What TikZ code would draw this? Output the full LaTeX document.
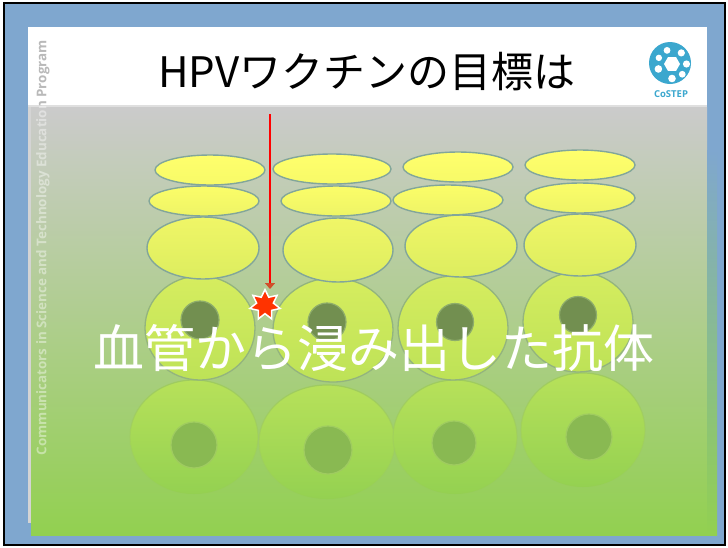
\documentclass[tikz,border=0pt]{standalone}
\usepackage{fontspec}
\newfontfamily\jp{Noto Sans CJK JP}
\newfontfamily\osans{Open Sans}
\usetikzlibrary{arrows.meta,shapes.geometric,fadings}
\definecolor{framefill}{HTML}{7FA7CF}
\definecolor{slidegray}{HTML}{D4D4D4}
\definecolor{topgray}{HTML}{CBCBCB}
\definecolor{leafgreen}{HTML}{92D050}
\definecolor{rimteal}{HTML}{82A69A}
\definecolor{rimgreen}{HTML}{93B47E}
\definecolor{rimpale}{HTML}{9FCB60}
\definecolor{nucdark}{HTML}{728F50}
\definecolor{nucrim}{HTML}{8EAD6A}
\definecolor{nucpale}{HTML}{89B952}
\definecolor{logoblue}{HTML}{3BA7CE}
\definecolor{arrowbrown}{HTML}{D0502A}
\definecolor{burst}{HTML}{FF3300}
\definecolor{rowAtop}{HTML}{FFFF6C}
\definecolor{rowAbot}{HTML}{F7FA68}
\definecolor{rowBtop}{HTML}{FBFD69}
\definecolor{rowBbot}{HTML}{EEF466}
\definecolor{rowCtop}{HTML}{F0F667}
\definecolor{rowCbot}{HTML}{DCED5F}
\definecolor{rowDtop}{HTML}{D6ED5F}
\definecolor{rowDbot}{HTML}{BDE257}
\definecolor{rowEtop}{HTML}{B7E15A}
\definecolor{rowEbot}{HTML}{94D151}
\tikzset{
  flatcell/.style={draw=rimteal, line width=1.4pt},
  roundcell/.style={draw=rimgreen, line width=1.3pt, top color=rowDtop, bottom color=rowDbot},
  nucleus/.style={fill=nucdark, draw=nucrim, line width=1.2pt},
  deepcell/.style={top color=rowEtop, bottom color=rowEbot},
  deeprim/.style={draw=rimpale, line width=1.2pt, path fading=south},
  deepnuc/.style={fill=nucpale, draw=rimpale, line width=1.2pt},
  caption/.style={text=white, font=\jp\fontsize{51}{51}\selectfont, inner sep=0pt},
  banner/.style={rotate=90, anchor=east, inner sep=0pt, font=\osans\bfseries\fontsize{13.4}{13.4}\selectfont},
}
\begin{document}
\begin{tikzpicture}[x=1pt, y=-1pt]
\useasboundingbox (0,0) rectangle (728,547);
% page and frame
\fill[white] (0,0) rectangle (728,547);
\draw[fill=framefill, line width=1.5pt] (4,3) rectangle (725,545);
% slide body
\fill[slidegray] (28,27) rectangle (707,523);
\fill[white] (28,27) rectangle (707,105);
\fill[gray!25] (28,105) rectangle (707,107);
\shade[top color=topgray, bottom color=leafgreen] (31,107) rectangle (707,535);
\shade[top color=framefill, bottom color=leafgreen] (707,150) rectangle (717,535);
\fill[topgray] (31,107) rectangle (707,110);

% vertical programme banner
\begin{scope}
  \clip (28,27) rectangle (707,105);
  \node[banner, text=gray!55] (bannerA) at (43,40) {Communicators in Science and Technology Education Program};
\end{scope}
\begin{scope}
  \clip (28,105) rectangle (717,535);
  \node[banner, text=white, opacity=0.42] (bannerB) at (43,40) {Communicators in Science and Technology Education Program};
\end{scope}

% title and logo
\node[font=\jp\fontsize{42}{42}\selectfont, inner sep=0pt] (title) at (367,72) {HPVワクチンの目標は};
\fill[logoblue] (670,63) circle[radius=21];
\node[regular polygon, regular polygon sides=6, fill=white, minimum size=16pt, inner sep=0pt] (hub) at (672,64) {};
\foreach \a/\r in {90/3.8, 45/3.4, 0/3.6, -50/3.6, -110/3.4, 160/3.8, 205/3.2}
  \fill[white] (672,64) ++(\a:14.5) circle[radius=\r];
\node[font=\osans\bfseries\fontsize{9.5}{9.5}\selectfont, text=logoblue, inner sep=0pt] (logotext) at (671,94) {CoSTEP};

% deep layer cells
\foreach \x/\y/\rx/\ry/\nx/\ny/\nr in {194/437/64/57/194/445/23, 327/442/68/57/328/450/24, 455/437/62/57/454/443/22, 583/430/62/57/589/437/23}{
  \shade[deepcell] (\x,\y) ellipse[x radius=\rx, y radius=\ry];
  \draw[deeprim] (\x,\y) ellipse[x radius=\rx, y radius=\ry];
  \draw[deepnuc] (\nx,\ny) ellipse[x radius=\nr, y radius=\nr];
}
% basal cells with nuclei
\foreach \x/\y/\rx/\ry/\nx/\ny/\nr in {200/328/55/52/200/320/19, 333/330/60/52/327/322/19, 453/328/55/52/455/322/18.5, 578/322/55/50/578/315/18.5}{
  \draw[roundcell] (\x,\y) ellipse[x radius=\rx, y radius=\ry];
  \draw[nucleus] (\nx,\ny) ellipse[x radius=\nr, y radius=\nr];
}
% upper layers
\foreach \x/\y/\rx/\ry in {203/248/56/31, 338/250/55/32, 461/246/56/31, 580/245/56/31}
  \draw[flatcell, top color=rowCtop, bottom color=rowCbot] (\x,\y) ellipse[x radius=\rx, y radius=\ry];
\foreach \x/\y/\rx/\ry in {204/201/55/15, 336/201/55/15, 448/200/55/15, 580/198/55/15}
  \draw[flatcell, top color=rowBtop, bottom color=rowBbot] (\x,\y) ellipse[x radius=\rx, y radius=\ry];
\foreach \x/\y/\rx/\ry in {210/170/55/15, 332/169/59/15, 458/167/55/15, 580/165/55/15}
  \draw[flatcell, top color=rowAtop, bottom color=rowAbot] (\x,\y) ellipse[x radius=\rx, y radius=\ry];

% antibody path
\coordinate (vessel) at (270,114);
\coordinate (entry) at (270,289);
\draw[red, line width=2.2pt, -{Triangle[length=6pt, width=10pt, color=arrowbrown]}] (vessel) -- (entry);
\node[star, star points=7, star point ratio=1.8, minimum size=31pt, inner sep=0pt, fill=burst, draw=white, line width=1.5pt] (burstmark) at (265,305) {};

% caption
\node[caption] (label) at (374,348) {血管から浸み出した抗体};
\end{tikzpicture}
\end{document}
